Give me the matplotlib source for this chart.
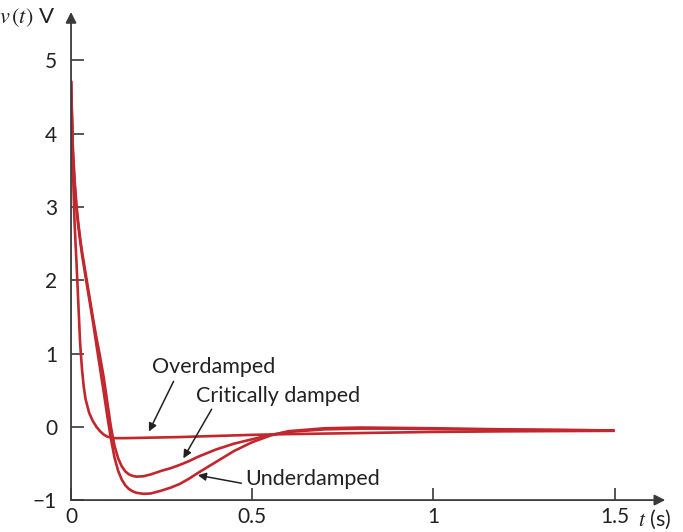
import matplotlib
matplotlib.use("Agg")
import matplotlib.pyplot as plt

plt.rcParams['font.family'] = ['Lato', 'DejaVu Sans']
plt.rcParams['mathtext.fontset'] = 'stix'

# values
t_over = [0, 0.005, 0.01, 0.015, 0.02, 0.025, 0.03, 0.035, 0.04, 0.05, 0.06, 0.07,
          0.08, 0.09, 0.1, 0.12, 0.15, 0.2, 0.3, 0.4, 0.5, 0.6, 0.8, 1.0, 1.2, 1.5]
v_over = [4.72, 3.55, 2.75, 2.25, 1.7, 1.15, 0.8, 0.55, 0.38, 0.19, 0.08, 0.0,
          -0.06, -0.105, -0.135, -0.155, -0.155, -0.15, -0.14, -0.125, -0.11, -0.1,
          -0.085, -0.07, -0.062, -0.055]

t_crit = [0, 0.005, 0.01, 0.015, 0.02, 0.025, 0.03, 0.04, 0.05, 0.06, 0.07, 0.08, 0.09,
          0.1, 0.11, 0.12, 0.13, 0.14, 0.15, 0.16, 0.17, 0.18, 0.2, 0.22, 0.25, 0.275,
          0.3, 0.325, 0.35, 0.4, 0.45, 0.5, 0.55, 0.6, 0.7, 0.8, 0.9, 1.0, 1.2, 1.5]
v_crit = [4.72, 3.8, 3.35, 3.02, 2.78, 2.58, 2.4, 2.1, 1.8, 1.5, 1.22, 0.96, 0.68,
          0.34, 0.0, -0.26, -0.43, -0.54, -0.61, -0.65, -0.67, -0.68, -0.675, -0.65,
          -0.6, -0.565, -0.52, -0.47, -0.41, -0.31, -0.23, -0.17, -0.11, -0.07,
          -0.035, -0.025, -0.025, -0.03, -0.04, -0.05]

t_under = [0, 0.005, 0.01, 0.015, 0.02, 0.025, 0.03, 0.04, 0.05, 0.06, 0.07, 0.08, 0.09,
           0.1, 0.11, 0.12, 0.13, 0.14, 0.15, 0.16, 0.17, 0.18, 0.2, 0.22, 0.25, 0.275,
           0.3, 0.325, 0.35, 0.375, 0.4, 0.45, 0.5, 0.55, 0.6, 0.7, 0.8, 0.9, 1.0,
           1.2, 1.5]
v_under = [4.72, 3.75, 3.3, 2.98, 2.74, 2.54, 2.36, 2.05, 1.75, 1.45, 1.12, 0.8, 0.48,
           0.15, -0.16, -0.42, -0.6, -0.72, -0.8, -0.85, -0.88, -0.9, -0.915, -0.91,
           -0.87, -0.83, -0.78, -0.71, -0.63, -0.555, -0.48, -0.33, -0.21, -0.12,
           -0.06, -0.02, -0.01, -0.015, -0.02, -0.035, -0.05]

x_ticks = [0, 0.5, 1, 1.5]
x_labels = ['0', '0.5', '1', '1.5']
y_ticks = [-1, 0, 1, 2, 3, 4, 5]
y_labels = ['\u22121', '0', '1', '2', '3', '4', '5']

red = '#c1272d'
axis_col = '#3a3a3a'
txt_col = '#222222'

fig = plt.figure(figsize=(6.83, 5.32), dpi=100)
ax = fig.add_axes([0.104, 0.060, 0.886, 0.923])
ax.set_xlim(0, 1.67)
ax.set_ylim(-1, 5.7)

for s in ax.spines.values():
    s.set_visible(False)

ax.plot(t_over, v_over, color=red, lw=1.9, solid_capstyle='butt')
ax.plot(t_crit, v_crit, color=red, lw=1.9, solid_capstyle='butt')
ax.plot(t_under, v_under, color=red, lw=1.9, solid_capstyle='butt')

# axes with arrow heads
ax.annotate('', xy=(1.64, -1), xytext=(0, -1),
            arrowprops=dict(arrowstyle='-|>', color=axis_col, lw=1.3, mutation_scale=16,
                            shrinkA=0, shrinkB=0), annotation_clip=False)
ax.annotate('', xy=(0, 5.66), xytext=(0, -1),
            arrowprops=dict(arrowstyle='-|>', color=axis_col, lw=1.3, mutation_scale=16,
                            shrinkA=0, shrinkB=0), annotation_clip=False)

ax.set_xticks(x_ticks)
ax.set_xticklabels(x_labels)
ax.set_yticks(y_ticks)
ax.set_yticklabels(y_labels)
ax.tick_params(axis='both', direction='in', length=9, width=1.2, color=axis_col,
               labelsize=15, labelcolor=txt_col)
ax.tick_params(axis='x', pad=5)
ax.tick_params(axis='y', pad=10)

ax.text(-0.044, 5.58, r'$v\,(t)$ V', ha='right', va='center', fontsize=16, color=txt_col)
ax.text(1.565, -1.26, r'$t$ (s)', ha='left', va='center', fontsize=15.5, color=txt_col,
        clip_on=False)

arrow = dict(arrowstyle='-|>', color=txt_col, lw=1.1, mutation_scale=12,
             shrinkA=0, shrinkB=0)
ax.text(0.223, 0.82, 'Overdamped', fontsize=15.5, color=txt_col, ha='left', va='center')
ax.annotate('', xy=(0.215, -0.065), xytext=(0.283, 0.62), arrowprops=arrow)
ax.text(0.346, 0.42, 'Critically damped', fontsize=15.5, color=txt_col,
        ha='left', va='center')
ax.annotate('', xy=(0.31, -0.43), xytext=(0.388, 0.24), arrowprops=arrow)
ax.text(0.482, -0.71, 'Underdamped', fontsize=15.5, color=txt_col, ha='left', va='center')
ax.annotate('', xy=(0.35, -0.66), xytext=(0.47, -0.77), arrowprops=arrow)

fig.savefig('out.png', dpi=100)
